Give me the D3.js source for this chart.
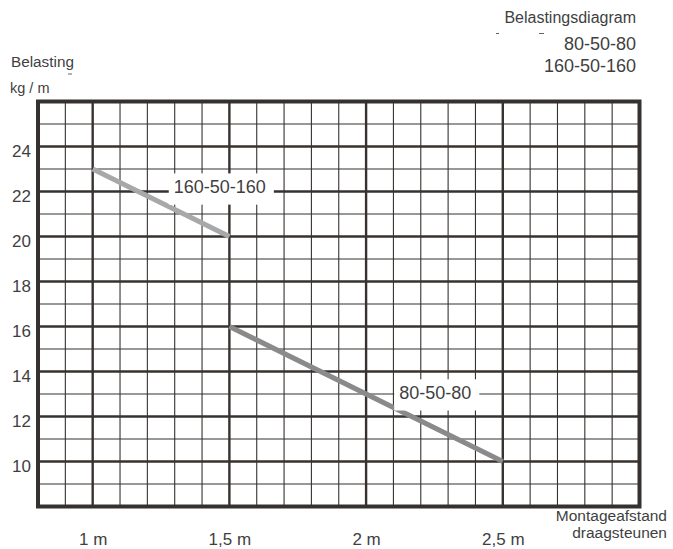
<!DOCTYPE html>
<html>
<head>
<meta charset="utf-8">
<script src="https://cdn.jsdelivr.net/npm/d3@7"></script>
<style>
  html, body { margin: 0; padding: 0; background: #fff; }
  svg { display: block; font-family: "Liberation Sans", Arial, Helvetica, sans-serif; }
</style>
</head>
<body>
<div id="chart"></div>
<script>
// ---- data ----
const title = "Belastingsdiagram";
const seriesNames = ["80-50-80", "160-50-160"];
const yTitle = "Belasting";
const yUnit = "kg / m";
const xTitle = ["Montageafstand", "draagsteunen"];

const xTickValues = [1, 1.5, 2, 2.5];
const xTickLabels = ["1 m", "1,5 m", "2 m", "2,5 m"];
const yTickValues = [10, 12, 14, 16, 18, 20, 22, 24];

// span (m) vs load (kg/m)
const span160 = [1.0, 1.5];
const load160 = [23, 20];
const span80 = [1.5, 2.5];
const load80 = [16, 10];

// label anchors (data units)
const labelSpan = [2.253, 1.465];
const labelLoad = [13, 22.15];

// ---- layout ----
const W = 673, H = 549;
const pL = 38, pR = 639.5, pT = 101.5, pB = 506.5;
const gridColor = "#36322f";
const textColor = "#3f3f3f";

const x = d3.scaleLinear().domain([0.8, 3.0]).range([pL, pR]);
const y = d3.scaleLinear().domain([8, 26]).range([pB, pT]);

const svg = d3.select("#chart").append("svg").attr("width", W).attr("height", H);

// grid
const grid = svg.append("g");
const vx = d3.range(9, 30).map(i => i / 10);
grid.selectAll("line.v").data(vx).join("line")
  .attr("x1", d => x(d)).attr("x2", d => x(d))
  .attr("y1", pT).attr("y2", pB)
  .attr("stroke", gridColor)
  .attr("stroke-width", d => (Math.round(d * 10) % 5 === 0) ? 2.4 : 1.1);
const hy = d3.range(9, 26);
grid.selectAll("line.h").data(hy).join("line")
  .attr("x1", pL).attr("x2", pR)
  .attr("y1", d => y(d)).attr("y2", d => y(d))
  .attr("stroke", gridColor)
  .attr("stroke-width", d => d % 2 === 0 ? 2.4 : 1.1);

// frame
svg.append("rect")
  .attr("x", pL).attr("y", pT)
  .attr("width", pR - pL).attr("height", pB - pT)
  .attr("fill", "none").attr("stroke", "#36312e").attr("stroke-width", 4);

// series lines
const line = d3.line().x(d => x(d[0])).y(d => y(d[1]));
svg.append("path")
  .datum(d3.zip(span160, load160))
  .attr("d", line).attr("fill", "none")
  .attr("stroke", "#a8a8a8").attr("stroke-width", 5);
svg.append("path")
  .datum(d3.zip(span80, load80))
  .attr("d", line).attr("fill", "none")
  .attr("stroke", "#8a8a8a").attr("stroke-width", 5);

// series labels with white boxes
seriesNames.forEach((name, i) => {
  const g = svg.append("g");
  const rect = g.append("rect").attr("fill", "#fff");
  const t = g.append("text")
    .attr("x", x(labelSpan[i]))
    .attr("y", y(labelLoad[i]) + 5)
    .attr("text-anchor", "middle")
    .attr("font-size", 18)
    .attr("fill", textColor)
    .text(name);
  const b = t.node().getBBox();
  rect.attr("x", b.x - 5).attr("y", b.y - 3.7)
    .attr("width", b.width + 13).attr("height", b.height + 11.2);
});

// y axis
const yAxis = svg.append("g")
  .attr("transform", `translate(${pL},0)`)
  .call(d3.axisLeft(y).tickValues(yTickValues).tickSize(0).tickPadding(7));
yAxis.select(".domain").remove();
yAxis.selectAll("text")
  .attr("font-size", 17).attr("font-family", null)
  .attr("fill", textColor).attr("dy", "0.6em");

// x axis
const xAxis = svg.append("g")
  .attr("transform", `translate(0,${pB})`)
  .call(d3.axisBottom(x).tickValues(xTickValues).tickSize(0)
    .tickFormat((d, i) => xTickLabels[i]));
xAxis.select(".domain").remove();
xAxis.selectAll("text")
  .attr("font-size", 17).attr("font-family", null)
  .attr("fill", textColor).attr("y", 38.5).attr("dy", 0);

// titles
svg.append("text").attr("x", 636).attr("y", 23.3).attr("text-anchor", "end")
  .attr("font-size", 16).attr("fill", textColor).text(title);
svg.append("text").attr("x", 636).attr("y", 50).attr("text-anchor", "end")
  .attr("font-size", 18).attr("fill", textColor).text(seriesNames[0]);
svg.append("text").attr("x", 636).attr("y", 71.7).attr("text-anchor", "end")
  .attr("font-size", 18).attr("fill", textColor).text(seriesNames[1]);

svg.append("text").attr("x", 11).attr("y", 66.5)
  .attr("font-size", 15.3).attr("fill", textColor).text(yTitle);
svg.append("text").attr("x", 10).attr("y", 93)
  .attr("font-size", 14.5).attr("fill", textColor).text(yUnit);

svg.append("text").attr("x", 667).attr("y", 520.5).attr("text-anchor", "end")
  .attr("font-size", 15.5).attr("fill", textColor).text(xTitle[0]);
svg.append("text").attr("x", 667).attr("y", 538).attr("text-anchor", "end")
  .attr("font-size", 15.5).attr("fill", textColor).text(xTitle[1]);

// small stray dashes present in the original artwork
const dashes = [[496, 499, 33.5], [539, 544, 33.5], [68, 72, 74]];
svg.selectAll("line.dash").data(dashes).join("line")
  .attr("x1", d => d[0]).attr("x2", d => d[1])
  .attr("y1", d => d[2]).attr("y2", d => d[2])
  .attr("stroke", "#666").attr("stroke-width", 1);
</script>
</body>
</html>
